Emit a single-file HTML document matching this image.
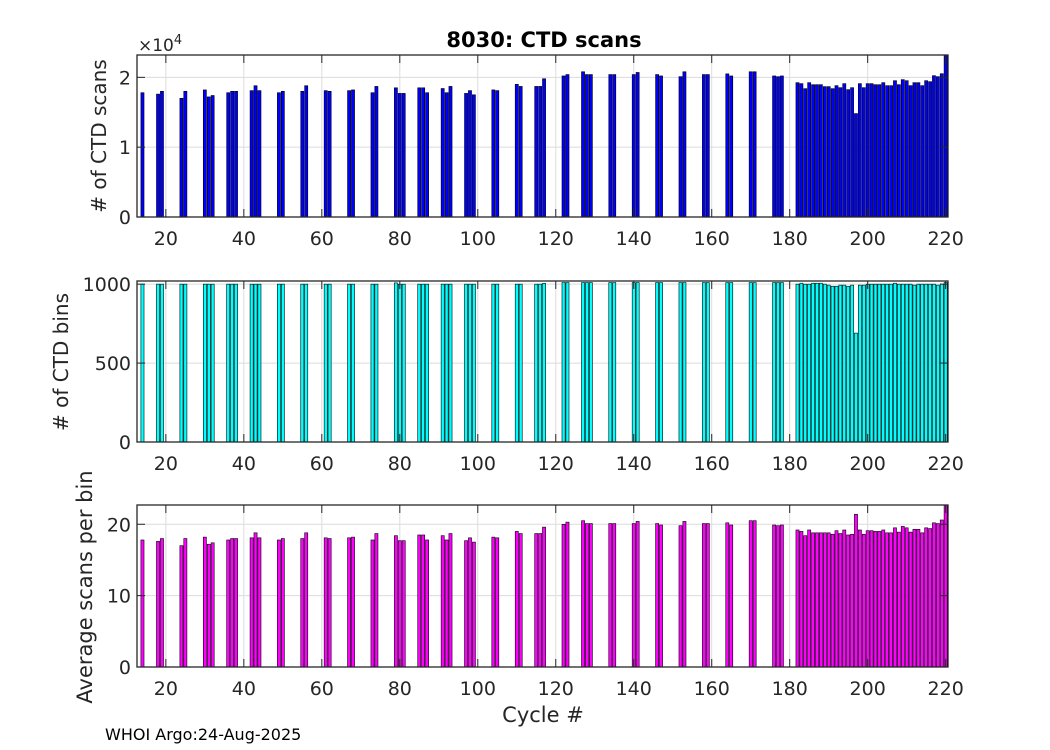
<!DOCTYPE html>
<html><head><meta charset="utf-8">
<style>
body{margin:0;background:#fff;}
svg{display:block;font-family:"DejaVu Sans","Liberation Sans",sans-serif;}
</style></head>
<body>
<svg id="chart" width="1050" height="750" xmlns="http://www.w3.org/2000/svg">
<rect width="1050" height="750" fill="#fff"/>
<text x="544" y="47" font-size="21" font-weight="bold" text-anchor="middle" fill="#000">8030: CTD scans</text>
<text x="138" y="51" font-size="17" fill="#262626">×10<tspan font-size="13" dy="-7">4</tspan></text>
<text transform="translate(106,136) rotate(-90)" font-size="20" text-anchor="middle" fill="#262626"># of CTD scans</text>
<text transform="translate(68,362) rotate(-90)" font-size="20" text-anchor="middle" fill="#262626"># of CTD bins</text>
<text transform="translate(92,587) rotate(-90)" font-size="21" text-anchor="middle" fill="#262626">Average scans per bin</text>
<text x="543" y="722" font-size="21" text-anchor="middle" fill="#262626">Cycle #</text>
<text x="105" y="740" font-size="16" fill="#000">WHOI Argo:24-Aug-2025</text>
</svg>
<script>
const cycles=[14,18,19,24,25,30,31,32,36,37,38,42,43,44,49,50,55,56,61,62,67,68,73,74,79,80,81,85,86,87,91,92,93,97,98,99,104,105,110,111,115,116,117,122,123,127,128,129,134,135,140,141,146,147,152,153,158,159,164,165,170,171,176,177,178,
182,183,184,185,186,187,188,189,190,191,192,193,194,195,196,197,198,199,200,201,202,203,204,205,206,207,208,209,210,211,212,213,214,215,216,217,218,219,220];
const scans=[17800,17600,18000,17000,18000,18200,17200,17400,17800,18000,18000,18100,18800,18100,17800,18000,18000,18800,18100,18000,18100,18200,17800,18700,18500,17700,17700,18500,18500,17800,18400,17800,18700,17700,18100,17500,18200,18100,19000,18700,18700,18700,19800,20200,20400,20800,20400,20400,20400,20400,20400,20700,20400,20200,20100,20800,20400,20400,20500,20200,20800,20800,20200,20100,20200,
19240,19100,18380,19240,18950,18950,18950,18670,18670,18380,18810,18520,19100,18240,18520,14810,19100,18520,19100,19100,18950,18950,19240,18810,18810,19520,18950,19670,19520,18810,19240,19240,18810,19520,19380,20240,20100,20520,24000];
const bins=[1000,1000,1000,1000,1000,1000,1000,1000,1000,1000,1000,1000,1000,1000,1000,1000,1000,1000,1000,1000,1000,1000,1000,1000,1008,1000,1000,1000,1000,1000,1000,1000,1000,1000,1000,1000,1000,1000,1000,1000,1000,1000,1005,1010,1010,1010,1010,1010,1010,1010,1010,1010,1010,1010,1010,1010,1010,1010,1010,1010,1010,1010,1010,1010,1010,
1000,1006,1000,1000,1006,1006,1006,1000,994,987,987,994,994,987,994,690,994,994,1000,1000,1000,1000,1000,1000,1000,1006,1000,1000,1000,1000,994,1000,1000,1000,1000,1000,994,1000,1010];
const avg=[17.8,17.6,18.0,17.0,18.0,18.2,17.2,17.4,17.8,18.0,18.0,18.1,18.8,18.1,17.8,18.0,18.0,18.8,18.1,18.0,18.1,18.2,17.8,18.7,18.4,17.7,17.7,18.5,18.5,17.8,18.4,17.8,18.7,17.7,18.1,17.5,18.2,18.1,19.0,18.7,18.7,18.7,19.6,20.0,20.3,20.5,20.1,20.1,20.1,20.1,20.1,20.4,20.1,19.9,19.8,20.4,20.1,20.1,20.2,19.9,20.5,20.5,19.9,19.8,19.9,
19.2,19.0,18.4,19.2,18.8,18.8,18.8,18.8,18.8,18.6,19.1,18.7,19.2,18.5,18.6,21.4,19.2,18.6,19.1,19.1,19.0,19.0,19.2,18.8,18.8,19.5,18.9,19.7,19.5,18.9,19.3,19.3,18.8,19.5,19.4,20.2,20.1,20.6,23.0];
const xTicks=[20,40,60,80,100,120,140,160,180,200,220];
const scanTicks=[0,10000,20000];
const scanTickLabels=["0","1","2"];
const binTicks=[0,500,1000];
const binTickLabels=["0","500","1000"];
const avgTicks=[0,10,20];
const avgTickLabels=["0","10","20"];

const NS="http://www.w3.org/2000/svg";
const svg=document.getElementById('chart');
const L=137,R=948,XMIN=12.6,XMAX=220.6;
const xs=c=>L+(c-XMIN)/(XMAX-XMIN)*(R-L);
function mk(tag,attrs,parent){const e=document.createElementNS(NS,tag);for(const k in attrs)e.setAttribute(k,attrs[k]);(parent||svg).appendChild(e);return e;}

function panel(name,top,bot,ymax,vals,color,yt,ytl){
  const g=mk('g',{});
  
  
  const ys=v=>bot-v/ymax*(bot-top);
  const clipId='clip-'+name;
  const cp=mk('clipPath',{id:clipId},g);mk('rect',{x:L,y:top,width:R-L,height:bot-top},cp);
  xTicks.forEach(t=>{const ln=mk('line',{x1:xs(t),x2:xs(t),y1:top,y2:bot,stroke:'#dcdcdc','stroke-width':1},g);
    
    });
  yt.forEach(t=>{const ln=mk('line',{x1:L,x2:R,y1:ys(t),y2:ys(t),stroke:'#dcdcdc','stroke-width':1},g);
    
    });
  const bg=mk('g',{'clip-path':'url(#'+clipId+')'},g);
  const w=0.8*(R-L)/(XMAX-XMIN);
  cycles.forEach((c,i)=>{const y=ys(vals[i]);
    const r=mk('rect',{x:xs(c)-w/2,y:y,width:w,height:bot-y,fill:color,stroke:'#000','stroke-width':0.6},bg);
    
    });
  const box=mk('rect',{x:L,y:top,width:R-L,height:bot-top,fill:'none',stroke:'#262626','stroke-width':1.3},g);
  
  
  xTicks.forEach(t=>{const x=xs(t);
    mk('line',{x1:x,x2:x,y1:bot,y2:bot-8,stroke:'#262626'},g);
    mk('line',{x1:x,x2:x,y1:top,y2:top+8,stroke:'#262626'},g);
    const tx=mk('text',{x:x,y:bot+28,'font-size':19,'text-anchor':'middle',fill:'#262626'},g);tx.textContent=t;
    
    });
  yt.forEach((t,i)=>{const y=ys(t);
    mk('line',{x1:L,x2:L+8,y1:y,y2:y,stroke:'#262626'},g);
    mk('line',{x1:R,x2:R-8,y1:y,y2:y,stroke:'#262626'},g);
    const tx=mk('text',{x:L-6,y:y+7,'font-size':19,'text-anchor':'end',fill:'#262626'},g);tx.textContent=ytl[i];
    
    });
}
panel('scans',55,217,23200,scans,'#0000ff',scanTicks,scanTickLabels);
panel('bins',281,442,1020,bins,'#00ffff',binTicks,binTickLabels);
panel('avg',505,667,22.7,avg,'#ff00ff',avgTicks,avgTickLabels);
</script>
</body></html>
